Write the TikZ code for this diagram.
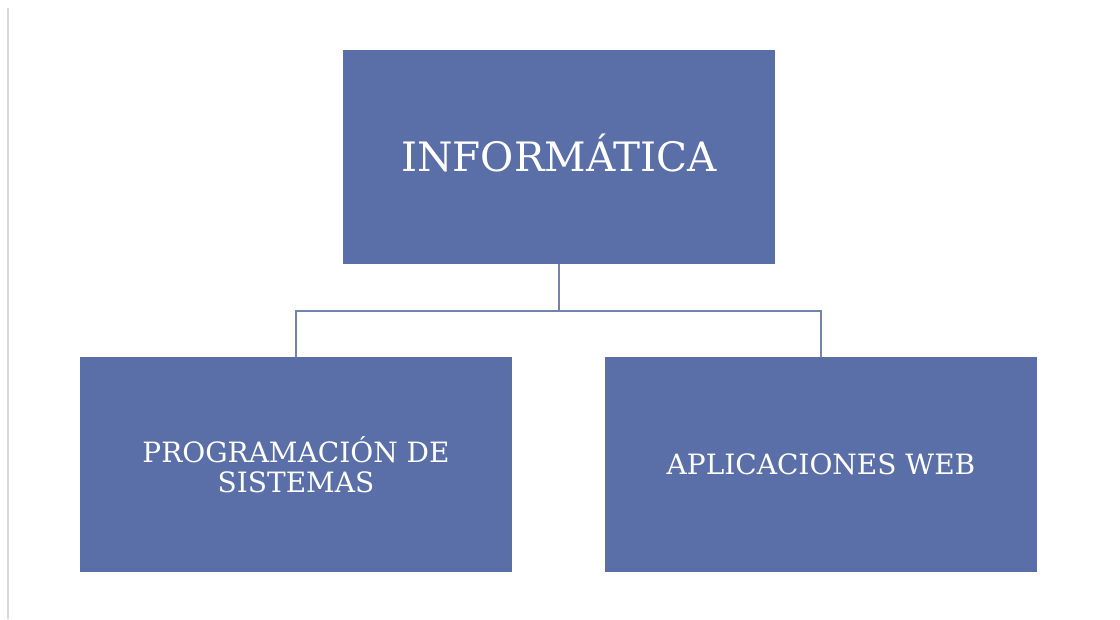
\documentclass[tikz,border=0pt]{standalone}
\usepackage{xcolor}
\usepackage{fontspec}
\setmainfont{DejaVu Serif}
\usetikzlibrary{arrows, arrows.meta}

\definecolor{boxblue}{HTML}{5A6FA7}
\definecolor{linkblue}{HTML}{7383AD}
\definecolor{edgegray}{HTML}{D6D6D6}

\begin{document}
\begin{tikzpicture}[x=0.75pt,y=-0.75pt,
  topbox/.style={fill=boxblue,draw=none,minimum width=324pt,minimum height=160.5pt,
    text=white,font=\fontsize{30.4}{33}\selectfont,inner sep=0pt,
    text height=22.2pt,text depth=0pt},
  leafbox/.style={fill=boxblue,draw=none,minimum width=324pt,minimum height=161.25pt,
    text=white,font=\fontsize{21}{22.5}\selectfont,align=center,inner sep=0pt},
  link/.style={draw=linkblue,line width=1pt}]
\useasboundingbox (0,0) rectangle (1120,619);
\fill[white] (0,0) rectangle (1120,619);
\draw[edgegray,line width=1.5pt] (7.5,8) -- (7.5,619);
%\draw[step=50,gray,very thin] (0,0) grid (1120,619);
\node[topbox] (info) at (559,157) {INFORMÁTICA};
\node[leafbox] (prog) at (296,464.5) {PROGRAMACIÓN DE\\SISTEMAS};
\node[leafbox] (web) at (821,464.5) {APLICACIONES WEB};
\coordinate (split) at (559,311);
\draw[link] (info.south) -- (split);
\draw[link] (split) -| (prog.north);
\draw[link] (split) -| (web.north);
\end{tikzpicture}
\end{document}
